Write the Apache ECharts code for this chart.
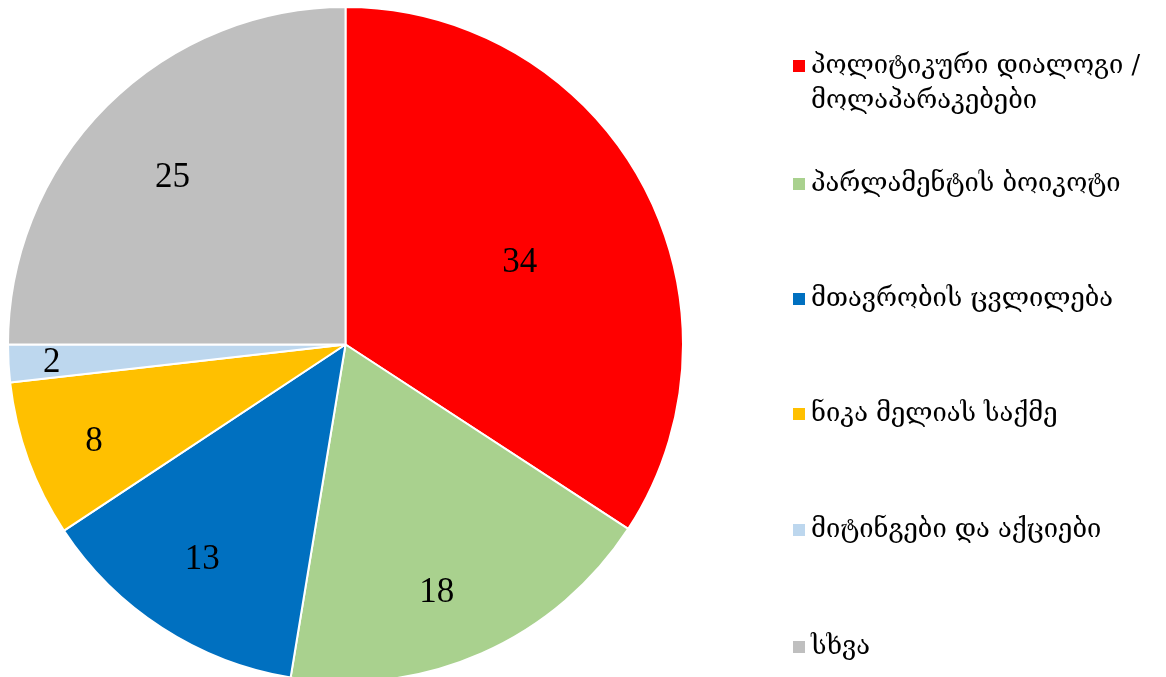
<!DOCTYPE html>
<html>
<head>
<meta charset="utf-8">
<script src="https://cdn.jsdelivr.net/npm/echarts@6/dist/echarts.min.js"></script>
<style>
  html, body { margin: 0; padding: 0; background: #fff; }
  #main { width: 1166px; height: 677px; }
</style>
</head>
<body>
<div id="main"></div>
<script>
// categories and values (slice sizes, labels show them rounded)
var categories = [
  'პოლიტიკური დიალოგი /\nმოლაპარაკებები',
  'პარლამენტის ბოიკოტი',
  'მთავრობის ცვლილება',
  'ნიკა მელიას საქმე',
  'მიტინგები და აქციები',
  'სხვა'
];
var values = [34.2, 18.4, 13.1, 7.5, 1.8, 25.0];
var colors = ['#FF0000', '#A9D18E', '#0070C0', '#FFC000', '#BDD7EE', '#BFBFBF'];

// label placement tweaks: radial push (x default 'inside' distance) and angle shift (deg, clockwise)
var labelPush = [1.12, 1.54, 1.505, 1.57, 1.713, 1.40];
var labelTurn = [3.4, 3.6, 0.7, -1.1, -0.3, -1.0];
// legend rows (icon centre y)
var legendRows = [66, 184, 299, 414, 530, 647];

var cx = 345.5, cy = 344.5, R = 337.5;

var chartDom = document.getElementById('main');
var myChart = echarts.init(chartDom);
var option;

var legends = categories.map(function (name, i) {
  var twoLines = name.indexOf('\n') >= 0;
  return {
    orient: 'vertical',
    left: 791,
    top: twoLines ? legendRows[i] - 52.5 : legendRows[i] - 17.5,
    padding: 0,
    selectedMode: false,
    icon: 'rect',
    itemWidth: 14,
    itemHeight: 14,
    data: [name],
    // blank first line so the square sits beside the first line of text
    formatter: function (n) { return twoLines ? ' \n' + n : n; },
    textStyle: {
      fontFamily: 'DejaVu Serif',
      fontSize: 25.5,
      color: '#000',
      lineHeight: 35
    }
  };
});

option = {
  animation: false,
  color: colors,
  legend: legends,
  series: [{
    type: 'pie',
    center: [cx, cy],
    radius: [0, R],
    startAngle: 90,
    clockwise: true,
    itemStyle: {
      borderColor: '#fff',
      borderWidth: 2
    },
    label: {
      show: true,
      position: 'inside',
      formatter: function (p) { return Math.round(p.value); },
      fontFamily: 'Liberation Serif',
      fontSize: 35,
      color: '#000'
    },
    labelLayout: function (p) {
      var r = p.labelRect;
      var lx = r.x + r.width / 2 - cx;
      var ly = r.y + r.height / 2 - cy;
      var dist = Math.sqrt(lx * lx + ly * ly) * labelPush[p.dataIndex];
      var ang = Math.atan2(lx, -ly) + labelTurn[p.dataIndex] * Math.PI / 180;
      return {
        dx: dist * Math.sin(ang) - lx,
        dy: -dist * Math.cos(ang) - ly
      };
    },
    emphasis: { disabled: true },
    data: categories.map(function (name, i) {
      return { name: name, value: values[i] };
    })
  }]
};

option && myChart.setOption(option);
</script>
</body>
</html>
